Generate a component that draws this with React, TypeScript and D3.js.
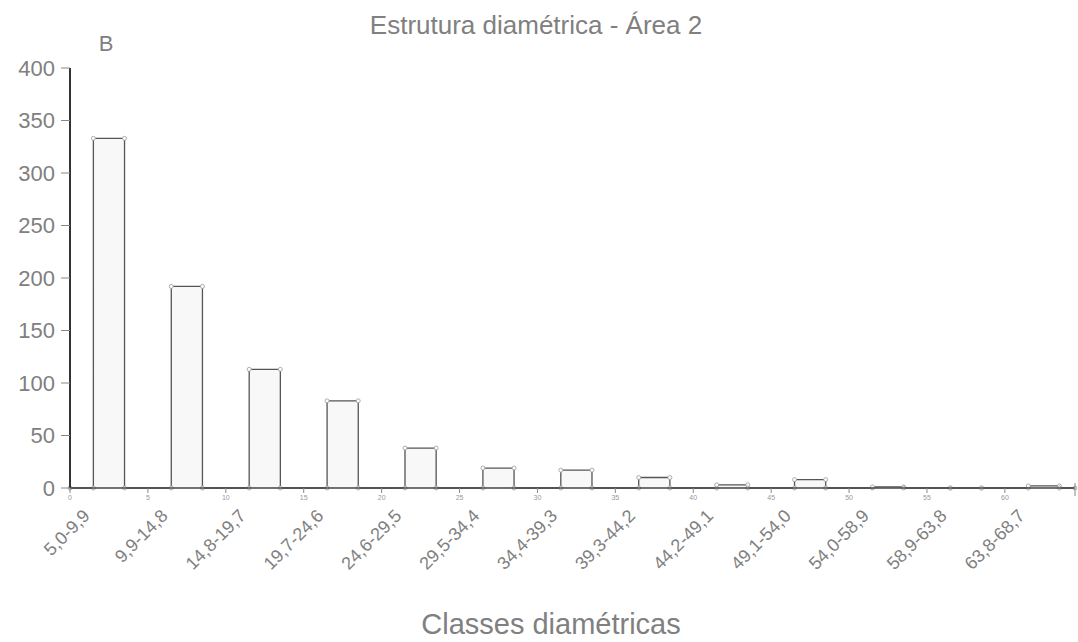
import React from 'react';
import * as d3 from 'd3';

// diameter classes (cm) and number of trees per class
const classes = [
  '5,0-9,9', '9,9-14,8', '14,8-19,7', '19,7-24,6', '24,6-29,5', '29,5-34,4',
  '34,4-39,3', '39,3-44,2', '44,2-49,1', '49,1-54,0', '54,0-58,9', '58,9-63,8', '63,8-68,7',
];
const counts = [333, 192, 113, 83, 38, 19, 17, 10, 3, 8, 1, 0, 2];
const yTicks = [0, 50, 100, 150, 200, 250, 300, 350, 400];
const xTicks = [0, 5, 10, 15, 20, 25, 30, 35, 40, 45, 50, 55, 60];

const W = 1078;
const H = 642;
const margin = { top: 68, right: 3, bottom: 154, left: 70 };

export default function App() {
  const x = d3.scaleLinear().domain([0, 64.5]).range([margin.left, W - margin.right]);
  const y = d3.scaleLinear().domain([0, 400]).range([H - margin.bottom, margin.top]);

  // step outline: each class is a bar 2 units wide centred in its 5-unit slot
  const pts: [number, number][] = [[0, 0]];
  counts.forEach((v, i) => {
    const x0 = 5 * i + 1.5;
    const x1 = 5 * i + 3.5;
    pts.push([x0, 0], [x0, v], [x1, v], [x1, 0]);
  });
  pts.push([64.5, 0]);

  const line = d3.line<[number, number]>().x(d => x(d[0])).y(d => y(d[1]));
  const area = d3.area<[number, number]>().x(d => x(d[0])).y0(y(0)).y1(d => y(d[1]));

  const txt = '#808080';
  const font = 'Liberation Sans, Arial, sans-serif';

  return (
    <svg width={W} height={H} style={{ position: 'absolute', left: 0, top: 0, background: '#fff' }}
      fontFamily={font}>
      <text x={536} y={34} textAnchor="middle" fontSize={26} fill={txt}>
        Estrutura diamétrica - Área 2
      </text>
      <text x={106} y={51} textAnchor="middle" fontSize={22} fill={txt}>B</text>

      {/* filled steps */}
      <path d={area(pts) || ''} fill="#f8f8f8" />
      <path d={line(pts) || ''} fill="none" stroke="#555" strokeWidth={1.3} />
      {pts.map((p, i) => (
        <circle key={i} cx={x(p[0])} cy={y(p[1])} r={2} fill="#fff" stroke="#999" strokeWidth={0.8} />
      ))}

      {/* y axis */}
      <line x1={x(0)} x2={x(0)} y1={y(400)} y2={y(0)} stroke="#333" strokeWidth={2} />
      {yTicks.map(t => (
        <g key={t} transform={`translate(${x(0)},${y(t)})`}>
          <line x1={-9} x2={0} stroke="#888" strokeWidth={1} />
          <text x={-15} dy="0.36em" textAnchor="end" fontSize={22} fill={txt}>{t}</text>
        </g>
      ))}

      {/* x axis */}
      <line x1={x(0)} x2={x(64.5)} y1={y(0)} y2={y(0)} stroke="#444" strokeWidth={1.5} />
      {xTicks.map(t => (
        <g key={t} transform={`translate(${x(t)},${y(0)})`}>
          <line y1={0} y2={5} stroke="#888" />
          <text y={12} textAnchor="middle" fontSize={7} fill="#999">{t}</text>
        </g>
      ))}
      <line x1={x(64.5)} x2={x(64.5)} y1={y(0) - 5} y2={y(0) + 8} stroke="#888" />

      {classes.map((c, i) => {
        const cx = x(5 * i + 2.5) - 18;
        const cy = y(0) + 29;
        return (
          <text key={c} transform={`translate(${cx},${cy}) rotate(-45)`} textAnchor="end"
            fontSize={18} fill={txt}>{c}</text>
        );
      })}

      <text x={551} y={634} textAnchor="middle" fontSize={29} fill={txt}>Classes diamétricas</text>
    </svg>
  );
}
